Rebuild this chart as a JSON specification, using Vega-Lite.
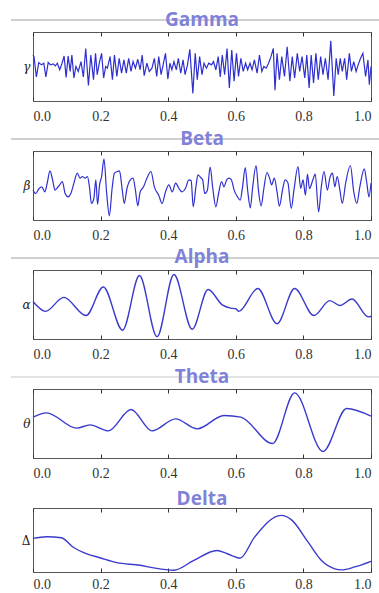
{
  "$schema": "https://vega.github.io/schema/vega-lite/v6.json",
  "padding": {"left": 10, "top": 10, "right": 0, "bottom": 0},
  "background": "white",
  "spacing": 50,
  "bounds": "flush",
  "config": {
    "view": {"stroke": "#555555", "strokeWidth": 1},
    "axis": {"grid": false, "labelFont": "Liberation Serif", "labelFontSize": 14, "labelColor": "#333333", "tickColor": "#333333", "domain": false},
    "axisY": {"titleAngle": 0, "titleFont": "DejaVu Serif", "titleFontStyle": "italic", "titleFontWeight": "normal", "titleFontSize": 12, "titleColor": "#222222", "titleBaseline": "middle", "titleAlign": "right", "titlePadding": 3, "labels": false, "ticks": false},
    "title": {"color": "#7f82d8", "font": "Open Sans", "fontSize": 19, "fontWeight": "bold", "anchor": "middle", "baseline": "alphabetic", "offset": -10, "frame": "group"}
  },
  "vconcat": [
    {
      "width": 338, "height": 69,
      "title": {"text": "Gamma"},
      "data": {"values": [
        {"t":0.000,"v":0.35},{"t":0.003,"v":0.30},{"t":0.010,"v":-0.32},{"t":0.017,"v":0.12},{"t":0.025,"v":0.05},{"t":0.032,"v":0.10},{"t":0.038,"v":-0.32},{"t":0.045,"v":0.12},{"t":0.052,"v":0.05},{"t":0.060,"v":0.08},{"t":0.066,"v":0.02},{"t":0.072,"v":0.10},{"t":0.079,"v":-0.10},{"t":0.086,"v":0.10},{"t":0.092,"v":0.32},{"t":0.098,"v":-0.33},{"t":0.104,"v":0.32},{"t":0.110,"v":-0.15},{"t":0.115,"v":0.35},{"t":0.121,"v":-0.35},{"t":0.127,"v":0.00},{"t":0.134,"v":-0.15},{"t":0.142,"v":0.15},{"t":0.149,"v":-0.32},{"t":0.156,"v":0.55},{"t":0.164,"v":-0.58},{"t":0.171,"v":0.35},{"t":0.179,"v":-0.40},{"t":0.185,"v":0.40},{"t":0.190,"v":-0.25},{"t":0.196,"v":0.10},{"t":0.203,"v":0.40},{"t":0.209,"v":-0.35},{"t":0.215,"v":0.00},{"t":0.220,"v":-0.05},{"t":0.228,"v":0.30},{"t":0.235,"v":-0.40},{"t":0.241,"v":0.35},{"t":0.248,"v":-0.30},{"t":0.255,"v":0.25},{"t":0.262,"v":-0.20},{"t":0.269,"v":0.20},{"t":0.276,"v":-0.20},{"t":0.283,"v":0.25},{"t":0.290,"v":-0.15},{"t":0.296,"v":0.15},{"t":0.303,"v":-0.05},{"t":0.310,"v":0.22},{"t":0.317,"v":-0.10},{"t":0.323,"v":0.35},{"t":0.329,"v":-0.28},{"t":0.337,"v":0.10},{"t":0.344,"v":-0.15},{"t":0.352,"v":-0.05},{"t":0.359,"v":0.25},{"t":0.366,"v":-0.30},{"t":0.372,"v":0.30},{"t":0.379,"v":-0.25},{"t":0.386,"v":0.10},{"t":0.392,"v":0.40},{"t":0.399,"v":-0.38},{"t":0.405,"v":0.10},{"t":0.411,"v":-0.10},{"t":0.417,"v":0.15},{"t":0.424,"v":-0.10},{"t":0.430,"v":0.25},{"t":0.437,"v":-0.20},{"t":0.444,"v":0.20},{"t":0.450,"v":-0.25},{"t":0.457,"v":0.05},{"t":0.464,"v":0.52},{"t":0.473,"v":-0.82},{"t":0.480,"v":0.40},{"t":0.486,"v":-0.40},{"t":0.493,"v":0.30},{"t":0.500,"v":-0.25},{"t":0.506,"v":0.10},{"t":0.513,"v":-0.05},{"t":0.520,"v":0.10},{"t":0.528,"v":0.05},{"t":0.534,"v":0.15},{"t":0.541,"v":-0.10},{"t":0.548,"v":0.30},{"t":0.554,"v":-0.32},{"t":0.560,"v":0.35},{"t":0.567,"v":-0.25},{"t":0.574,"v":0.55},{"t":0.581,"v":-0.65},{"t":0.588,"v":0.50},{"t":0.595,"v":-0.45},{"t":0.602,"v":0.40},{"t":0.608,"v":-0.30},{"t":0.615,"v":0.25},{"t":0.622,"v":-0.15},{"t":0.629,"v":0.10},{"t":0.635,"v":-0.10},{"t":0.642,"v":0.10},{"t":0.648,"v":-0.10},{"t":0.655,"v":0.20},{"t":0.663,"v":-0.20},{"t":0.670,"v":0.35},{"t":0.677,"v":-0.15},{"t":0.683,"v":0.00},{"t":0.690,"v":-0.05},{"t":0.697,"v":0.10},{"t":0.704,"v":0.30},{"t":0.711,"v":0.55},{"t":0.716,"v":-0.72},{"t":0.722,"v":0.40},{"t":0.729,"v":-0.40},{"t":0.736,"v":0.30},{"t":0.744,"v":-0.30},{"t":0.752,"v":0.60},{"t":0.760,"v":-0.45},{"t":0.767,"v":0.30},{"t":0.774,"v":-0.35},{"t":0.782,"v":0.40},{"t":0.789,"v":-0.15},{"t":0.796,"v":0.30},{"t":0.804,"v":-0.35},{"t":0.810,"v":0.35},{"t":0.817,"v":-0.65},{"t":0.823,"v":0.35},{"t":0.830,"v":-0.50},{"t":0.837,"v":0.40},{"t":0.844,"v":-0.40},{"t":0.851,"v":0.30},{"t":0.858,"v":-0.25},{"t":0.865,"v":0.25},{"t":0.873,"v":-0.40},{"t":0.881,"v":0.78},{"t":0.890,"v":-0.90},{"t":0.897,"v":0.25},{"t":0.903,"v":-0.25},{"t":0.909,"v":0.25},{"t":0.915,"v":-0.15},{"t":0.922,"v":0.25},{"t":0.928,"v":-0.40},{"t":0.936,"v":0.40},{"t":0.942,"v":-0.15},{"t":0.949,"v":0.15},{"t":0.956,"v":-0.15},{"t":0.962,"v":0.05},{"t":0.969,"v":0.25},{"t":0.976,"v":0.40},{"t":0.984,"v":-0.30},{"t":0.991,"v":0.20},{"t":0.995,"v":-0.55},{"t":1.000,"v":0.00}
      ]},
      "layer": [
        {
          "mark": {"type": "rule", "color": "#cfcfcf", "strokeWidth": 1, "clip": false},
          "encoding": {
            "x": {"datum": -0.065, "type": "quantitative", "scale": {"domain": [0, 1], "nice": false}, "axis": {"orient": "top", "labels": false, "tickSize": -4, "values": [0, 0.2, 0.4, 0.6, 0.8, 1.0], "title": null}},
            "x2": {"datum": 1.03},
            "y": {"datum": 1.415, "type": "quantitative", "axis": {"title": "γ"}}
          }
        },
        {
          "mark": {"type": "line", "color": "#2f2fd0", "strokeWidth": 1.2},
          "encoding": {
            "x": {"field": "t", "type": "quantitative", "scale": {"domain": [0, 1], "nice": false}, "axis": {"orient": "bottom", "format": ".1f", "values": [0, 0.2, 0.4, 0.6, 0.8, 1.0], "tickSize": -4, "labelPadding": 12, "title": null}},
            "y": {"field": "v", "type": "quantitative", "scale": {"domain": [-1.05, 1.05], "nice": false}, "axis": {"title": "γ"}}
          }
        }
      ],
      "resolve": {"axis": {"x": "independent"}}
    },
    {
      "width": 338, "height": 69,
      "title": {"text": "Beta"},
      "data": {"values": [
        {"t":0.000,"v":-0.14},{"t":0.008,"v":-0.24},{"t":0.018,"v":-0.09},{"t":0.026,"v":-0.04},{"t":0.035,"v":-0.19},{"t":0.043,"v":0.12},{"t":0.050,"v":0.44},{"t":0.058,"v":0.17},{"t":0.065,"v":-0.14},{"t":0.072,"v":-0.07},{"t":0.079,"v":0.02},{"t":0.087,"v":0.12},{"t":0.095,"v":-0.24},{"t":0.104,"v":-0.34},{"t":0.112,"v":-0.24},{"t":0.121,"v":0.07},{"t":0.131,"v":0.37},{"t":0.139,"v":0.22},{"t":0.146,"v":0.27},{"t":0.154,"v":0.22},{"t":0.161,"v":0.27},{"t":0.167,"v":-0.04},{"t":0.173,"v":-0.54},{"t":0.180,"v":-0.39},{"t":0.186,"v":0.17},{"t":0.191,"v":-0.57},{"t":0.197,"v":0.02},{"t":0.203,"v":0.27},{"t":0.210,"v":0.80},{"t":0.218,"v":-0.24},{"t":0.226,"v":-0.91},{"t":0.234,"v":-0.09},{"t":0.241,"v":0.37},{"t":0.250,"v":0.42},{"t":0.256,"v":0.44},{"t":0.263,"v":-0.04},{"t":0.270,"v":-0.54},{"t":0.278,"v":-0.09},{"t":0.288,"v":0.17},{"t":0.296,"v":0.22},{"t":0.303,"v":-0.14},{"t":0.310,"v":-0.61},{"t":0.317,"v":-0.19},{"t":0.327,"v":-0.04},{"t":0.337,"v":0.22},{"t":0.349,"v":0.42},{"t":0.359,"v":-0.04},{"t":0.372,"v":-0.29},{"t":0.382,"v":-0.54},{"t":0.392,"v":-0.19},{"t":0.402,"v":0.02},{"t":0.412,"v":-0.19},{"t":0.422,"v":0.07},{"t":0.432,"v":-0.09},{"t":0.441,"v":-0.19},{"t":0.451,"v":-0.09},{"t":0.461,"v":0.17},{"t":0.468,"v":0.14},{"t":0.474,"v":-0.64},{"t":0.482,"v":-0.04},{"t":0.488,"v":0.32},{"t":0.496,"v":0.24},{"t":0.502,"v":0.17},{"t":0.508,"v":-0.24},{"t":0.516,"v":-0.14},{"t":0.524,"v":0.55},{"t":0.532,"v":-0.09},{"t":0.541,"v":-0.64},{"t":0.549,"v":-0.24},{"t":0.558,"v":0.12},{"t":0.565,"v":-0.04},{"t":0.573,"v":0.17},{"t":0.580,"v":0.22},{"t":0.587,"v":0.17},{"t":0.595,"v":-0.14},{"t":0.605,"v":-0.34},{"t":0.613,"v":-0.44},{"t":0.620,"v":-0.04},{"t":0.628,"v":0.54},{"t":0.635,"v":-0.14},{"t":0.643,"v":-0.67},{"t":0.650,"v":-0.04},{"t":0.660,"v":0.60},{"t":0.667,"v":-0.14},{"t":0.675,"v":-0.61},{"t":0.683,"v":-0.09},{"t":0.692,"v":0.39},{"t":0.700,"v":0.22},{"t":0.706,"v":0.02},{"t":0.714,"v":0.22},{"t":0.722,"v":-0.19},{"t":0.729,"v":-0.62},{"t":0.739,"v":-0.09},{"t":0.746,"v":0.17},{"t":0.754,"v":0.09},{"t":0.764,"v":-0.69},{"t":0.772,"v":-0.14},{"t":0.784,"v":0.57},{"t":0.792,"v":-0.09},{"t":0.799,"v":0.17},{"t":0.806,"v":-0.29},{"t":0.812,"v":0.34},{"t":0.818,"v":-0.09},{"t":0.828,"v":0.17},{"t":0.835,"v":0.34},{"t":0.845,"v":-0.79},{"t":0.853,"v":-0.04},{"t":0.861,"v":0.42},{"t":0.871,"v":-0.14},{"t":0.878,"v":0.22},{"t":0.886,"v":0.37},{"t":0.893,"v":-0.04},{"t":0.900,"v":0.27},{"t":0.908,"v":-0.14},{"t":0.915,"v":-0.54},{"t":0.925,"v":0.07},{"t":0.939,"v":0.60},{"t":0.949,"v":-0.19},{"t":0.958,"v":-0.54},{"t":0.967,"v":-0.04},{"t":0.980,"v":0.50},{"t":0.987,"v":0.12},{"t":0.994,"v":-0.34},{"t":1.000,"v":0.07}
      ]},
      "layer": [
        {
          "mark": {"type": "rule", "color": "#cfcfcf", "strokeWidth": 1, "clip": false},
          "encoding": {
            "x": {"datum": -0.065, "type": "quantitative", "scale": {"domain": [0, 1], "nice": false}, "axis": {"orient": "top", "labels": false, "tickSize": -4, "values": [0, 0.2, 0.4, 0.6, 0.8, 1.0], "title": null}},
            "x2": {"datum": 1.03},
            "y": {"datum": 1.395, "type": "quantitative", "axis": {"title": "β"}}
          }
        },
        {
          "mark": {"type": "line", "color": "#2f2fd0", "strokeWidth": 1.2, "interpolate": "monotone"},
          "encoding": {
            "x": {"field": "t", "type": "quantitative", "scale": {"domain": [0, 1], "nice": false}, "axis": {"orient": "bottom", "format": ".1f", "values": [0, 0.2, 0.4, 0.6, 0.8, 1.0], "tickSize": -4, "labelPadding": 12, "title": null}},
            "y": {"field": "v", "type": "quantitative", "scale": {"domain": [-1.035, 1.035], "nice": false}, "axis": {"title": "β"}}
          }
        }
      ],
      "resolve": {"axis": {"x": "independent"}}
    },
    {
      "width": 338, "height": 69,
      "title": {"text": "Alpha"},
      "data": {"values": [
        {"t":0.000,"v":0.09},{"t":0.037,"v":-0.21},{"t":0.091,"v":0.22},{"t":0.157,"v":-0.34},{"t":0.208,"v":0.54},{"t":0.265,"v":-0.79},{"t":0.315,"v":0.89},{"t":0.367,"v":-0.99},{"t":0.417,"v":0.92},{"t":0.471,"v":-0.76},{"t":0.518,"v":0.46},{"t":0.560,"v":-0.01},{"t":0.585,"v":-0.11},{"t":0.600,"v":-0.13},{"t":0.609,"v":-0.21},{"t":0.665,"v":0.49},{"t":0.722,"v":-0.59},{"t":0.774,"v":0.49},{"t":0.831,"v":-0.34},{"t":0.878,"v":0.12},{"t":0.908,"v":-0.03},{"t":0.944,"v":0.17},{"t":0.992,"v":-0.38},{"t":1.000,"v":-0.36}
      ]},
      "layer": [
        {
          "mark": {"type": "rule", "color": "#cfcfcf", "strokeWidth": 1, "clip": false},
          "encoding": {
            "x": {"datum": -0.065, "type": "quantitative", "scale": {"domain": [0, 1], "nice": false}, "axis": {"orient": "top", "labels": false, "tickSize": -4, "values": [0, 0.2, 0.4, 0.6, 0.8, 1.0], "title": null}},
            "x2": {"datum": 1.03},
            "y": {"datum": 1.43, "type": "quantitative", "axis": {"title": "α"}}
          }
        },
        {
          "mark": {"type": "line", "color": "#3a3acc", "strokeWidth": 1.4, "interpolate": "monotone"},
          "encoding": {
            "x": {"field": "t", "type": "quantitative", "scale": {"domain": [0, 1], "nice": false}, "axis": {"orient": "bottom", "format": ".1f", "values": [0, 0.2, 0.4, 0.6, 0.8, 1.0], "tickSize": -4, "labelPadding": 12, "title": null}},
            "y": {"field": "v", "type": "quantitative", "scale": {"domain": [-1.06, 1.06], "nice": false}, "axis": {"title": "α"}}
          }
        }
      ],
      "resolve": {"axis": {"x": "independent"}}
    },
    {
      "width": 338, "height": 69,
      "title": {"text": "Theta"},
      "data": {"values": [
        {"t":0.000,"v":0.19},{"t":0.040,"v":0.32},{"t":0.129,"v":-0.14},{"t":0.169,"v":-0.04},{"t":0.223,"v":-0.22},{"t":0.290,"v":0.42},{"t":0.352,"v":-0.22},{"t":0.422,"v":0.14},{"t":0.486,"v":-0.16},{"t":0.565,"v":0.24},{"t":0.615,"v":0.19},{"t":0.709,"v":-0.60},{"t":0.774,"v":0.92},{"t":0.858,"v":-0.84},{"t":0.928,"v":0.45},{"t":1.000,"v":0.22}
      ]},
      "layer": [
        {
          "mark": {"type": "rule", "color": "#e2e2e2", "strokeWidth": 1, "clip": false},
          "encoding": {
            "x": {"datum": -0.065, "type": "quantitative", "scale": {"domain": [0, 1], "nice": false}, "axis": {"orient": "top", "labels": false, "tickSize": -4, "values": [0, 0.2, 0.4, 0.6, 0.8, 1.0], "title": null}},
            "x2": {"datum": 1.03},
            "y": {"datum": 1.395, "type": "quantitative", "axis": {"title": "θ"}}
          }
        },
        {
          "mark": {"type": "line", "color": "#3a3acc", "strokeWidth": 1.4, "interpolate": "monotone"},
          "encoding": {
            "x": {"field": "t", "type": "quantitative", "scale": {"domain": [0, 1], "nice": false}, "axis": {"orient": "bottom", "format": ".1f", "values": [0, 0.2, 0.4, 0.6, 0.8, 1.0], "tickSize": -4, "labelPadding": 12, "title": null}},
            "y": {"field": "v", "type": "quantitative", "scale": {"domain": [-1.035, 1.035], "nice": false}, "axis": {"title": "θ"}}
          }
        }
      ],
      "resolve": {"axis": {"x": "independent"}}
    },
    {
      "width": 338, "height": 64,
      "title": {"text": "Delta", "offset": -8},
      "data": {"values": [
        {"t":0.000,"v":0.05},{"t":0.040,"v":0.10},{"t":0.084,"v":0.07},{"t":0.119,"v":-0.22},{"t":0.159,"v":-0.42},{"t":0.198,"v":-0.54},{"t":0.248,"v":-0.69},{"t":0.317,"v":-0.77},{"t":0.357,"v":-0.85},{"t":0.417,"v":-0.92},{"t":0.476,"v":-0.62},{"t":0.544,"v":-0.32},{"t":0.575,"v":-0.42},{"t":0.613,"v":-0.55},{"t":0.655,"v":0.08},{"t":0.734,"v":0.75},{"t":0.764,"v":0.62},{"t":0.813,"v":-0.05},{"t":0.853,"v":-0.62},{"t":0.893,"v":-0.88},{"t":0.913,"v":-0.91},{"t":0.952,"v":-0.82},{"t":1.000,"v":-0.65}
      ]},
      "layer": [
        {
          "mark": {"type": "rule", "color": "#ffffff", "strokeOpacity": 0, "clip": false},
          "encoding": {
            "x": {"datum": -0.065, "type": "quantitative", "scale": {"domain": [0, 1], "nice": false}, "axis": {"orient": "top", "labels": false, "tickSize": -4, "values": [0, 0.2, 0.4, 0.6, 0.8, 1.0], "title": null}},
            "x2": {"datum": 1.03},
            "y": {"datum": 1.2, "type": "quantitative", "axis": {"title": "Δ", "titleFontStyle": "normal"}}
          }
        },
        {
          "mark": {"type": "line", "color": "#3a3acc", "strokeWidth": 1.4, "interpolate": "monotone"},
          "encoding": {
            "x": {"field": "t", "type": "quantitative", "scale": {"domain": [0, 1], "nice": false}, "axis": {"orient": "bottom", "format": ".1f", "values": [0, 0.2, 0.4, 0.6, 0.8, 1.0], "tickSize": -4, "labelPadding": 9, "title": null}},
            "y": {"field": "v", "type": "quantitative", "scale": {"domain": [-0.975, 0.975], "nice": false}, "axis": {"title": "Δ", "titleFontStyle": "normal"}}
          }
        }
      ],
      "resolve": {"axis": {"x": "independent"}}
    }
  ]
}
